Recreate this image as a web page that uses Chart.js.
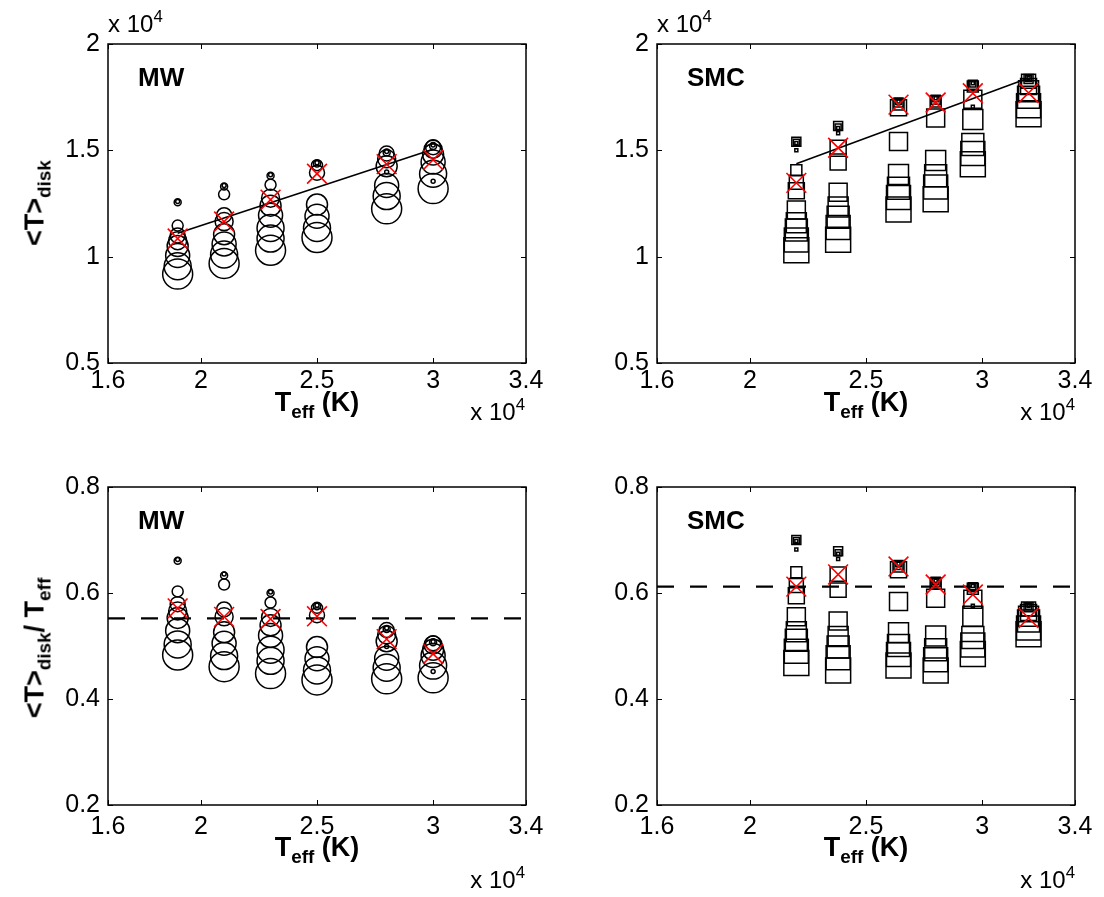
<!DOCTYPE html>
<html>
<head>
<meta charset="utf-8">
<script src="https://cdn.jsdelivr.net/npm/chart.js@4.4.1/dist/chart.umd.min.js"></script>
<style>
  body { margin: 0; background: #fff; }
  #fig { position: relative; width: 1104px; height: 897px; overflow: hidden;
         font-family: "Liberation Sans", Arial, Helvetica, sans-serif; color: #000; }
  #fig canvas { position: absolute; }
  .lbl { position: absolute; white-space: nowrap; line-height: 1; }
  .b { font-weight: bold; }
  .lbl sub { font-size: 70%; vertical-align: -0.35em; line-height: 0; }
  .lbl sup { font-size: 70%; vertical-align: 0.6em; line-height: 0; }
</style>
</head>
<body>
<div id="fig">
  <canvas id="mwDiskChart" width="552" height="448" style="left:0;top:0"></canvas>
  <canvas id="smcDiskChart" width="552" height="448" style="left:552px;top:0"></canvas>
  <canvas id="mwRatioChart" width="552" height="449" style="left:0;top:448px"></canvas>
  <canvas id="smcRatioChart" width="552" height="449" style="left:552px;top:448px"></canvas>

  <div class="lbl" style="left:108px;top:12px;font-size:24px">x 10<sup>4</sup></div>
  <div class="lbl" style="left:657px;top:12px;font-size:24px">x 10<sup>4</sup></div>

  <div class="lbl b" style="left:138px;top:64px;font-size:26px">MW</div>
  <div class="lbl b" style="left:687px;top:64px;font-size:26px">SMC</div>
  <div class="lbl b" style="left:138px;top:507px;font-size:26px">MW</div>
  <div class="lbl b" style="left:687px;top:507px;font-size:26px">SMC</div>

  <div class="lbl b" style="left:317px;top:389px;font-size:27px;transform:translateX(-50%)">T<sub>eff</sub> (K)</div>
  <div class="lbl b" style="left:866px;top:389px;font-size:27px;transform:translateX(-50%)">T<sub>eff</sub> (K)</div>
  <div class="lbl b" style="left:317px;top:834px;font-size:27px;transform:translateX(-50%)">T<sub>eff</sub> (K)</div>
  <div class="lbl b" style="left:866px;top:834px;font-size:27px;transform:translateX(-50%)">T<sub>eff</sub> (K)</div>

  <div class="lbl" style="left:525px;top:400px;font-size:24px;transform:translateX(-100%)">x 10<sup>4</sup></div>
  <div class="lbl" style="left:1075px;top:400px;font-size:24px;transform:translateX(-100%)">x 10<sup>4</sup></div>
  <div class="lbl" style="left:525px;top:868px;font-size:24px;transform:translateX(-100%)">x 10<sup>4</sup></div>
  <div class="lbl" style="left:1075px;top:868px;font-size:24px;transform:translateX(-100%)">x 10<sup>4</sup></div>

  <div class="lbl b" style="left:35px;top:203px;font-size:27px;transform:translate(-50%,-50%) rotate(-90deg)">&lt;T&gt;<sub>disk</sub></div>
  <div class="lbl b" style="left:35px;top:648px;font-size:27px;transform:translate(-50%,-50%) rotate(-90deg)">&lt;T&gt;<sub>disk</sub>/ T<sub>eff</sub></div>
</div>
<script>
// ---- data (temperatures in K) ----
const mwTeff = [19000, 21000, 23000, 25000, 28000, 30000];
const mwDisk = [
  [12590, 12560, 11460, 11000, 10750, 10500, 10050, 9550, 9180],
  [13350, 13300, 12930, 11950, 11650, 11050, 10600, 10100, 9680],
  [13850, 13800, 13380, 12750, 12400, 11950, 11350, 10850, 10300],
  [14420, 14380, 14300, 13950, 12450, 11900, 11350, 10900],
  [14950, 14900, 14850, 14600, 14250, 13980, 13350, 12850, 12250],
  [15250, 15200, 15150, 15050, 14800, 14450, 13900, 13550, 13200]
];
const mwModel = [
  [0, 1, 2, 3, 4, 5, 6, 7, 8],
  [0, 1, 2, 3, 4, 5, 6, 7, 8],
  [0, 1, 2, 4, 5, 6, 7, 7, 8],
  [0, 1, 2, 3, 5, 6, 7, 8],
  [0, 1, 3, 4, 5, 0, 6, 7, 8],
  [0, 1, 3, 4, 5, 6, 7, 0, 8]
];
const mwDiskMean = [10850, 11650, 12680, 13900, 14350, 14550];
const mwFitTeff = [19000, 30000];
const mwFitDisk = [11100, 15050];
const mwRatio = [
  [0.663, 0.661, 0.603, 0.579, 0.566, 0.553, 0.529, 0.503, 0.483],
  [0.636, 0.633, 0.616, 0.569, 0.555, 0.526, 0.505, 0.481, 0.461],
  [0.602, 0.600, 0.582, 0.554, 0.539, 0.520, 0.493, 0.472, 0.448],
  [0.577, 0.575, 0.572, 0.558, 0.498, 0.476, 0.454, 0.436],
  [0.534, 0.532, 0.530, 0.521, 0.509, 0.499, 0.477, 0.459, 0.438],
  [0.508, 0.507, 0.505, 0.502, 0.493, 0.482, 0.463, 0.452, 0.440]
];
const mwRatioMean = [0.571, 0.555, 0.551, 0.556, 0.513, 0.485];
const mwRatioAvg = 0.552;

const smcTeff = [22000, 23800, 26400, 28000, 29600, 32000];
const smcDisk = [
  [15400, 15380, 15350, 15000, 14060, 13500, 13100, 12200, 11600, 11250, 10780, 10300],
  [16150, 16100, 16050, 15800, 15100, 14450, 13030, 12330, 11850, 11370, 10800],
  [17300, 17300, 17250, 17150, 17000, 15420, 13860, 13220, 12780, 12220],
  [17450, 17420, 17380, 17300, 16520, 14520, 13810, 13270, 12700],
  [18150, 18120, 18080, 18000, 17400, 17050, 16450, 15280, 14850, 14350],
  [18400, 18380, 18350, 18250, 18000, 17800, 17500, 17100, 16700]
];
const smcModel = [
  [2, 1, 0, 0, 3, 4, 5, 6, 7, 8, 9, 10],
  [2, 1, 0, 0, 5, 5, 6, 7, 8, 9, 10],
  [0, 1, 2, 3, 5, 6, 7, 8, 9, 10],
  [0, 1, 2, 3, 6, 7, 8, 9, 10],
  [0, 1, 2, 3, 6, 0, 7, 8, 9, 10],
  [0, 1, 2, 4, 5, 7, 8, 9, 10]
];
const smcDiskMean = [13470, 15120, 17150, 17250, 17680, 17700];
const smcFitTeff = [22000, 32000];
const smcFitDisk = [14370, 18400];
const smcRatio = [
  [0.700, 0.699, 0.698, 0.682, 0.639, 0.614, 0.595, 0.555, 0.527, 0.511, 0.490, 0.468],
  [0.679, 0.676, 0.674, 0.664, 0.634, 0.607, 0.547, 0.518, 0.498, 0.478, 0.454],
  [0.655, 0.655, 0.653, 0.650, 0.644, 0.584, 0.525, 0.501, 0.484, 0.463],
  [0.623, 0.622, 0.621, 0.618, 0.590, 0.519, 0.493, 0.474, 0.454],
  [0.613, 0.612, 0.611, 0.608, 0.588, 0.576, 0.556, 0.516, 0.502, 0.485],
  [0.575, 0.574, 0.573, 0.570, 0.563, 0.556, 0.547, 0.534, 0.522]
];
const smcRatioMean = [0.612, 0.635, 0.650, 0.616, 0.597, 0.553];
const smcRatioAvg = 0.612;

const teffTicks = [16000, 20000, 25000, 30000, 34000];
const diskTicks = [5000, 10000, 15000, 20000];
const ratioTicks = [0.2, 0.4, 0.6, 0.8];

// ---- styles ----
const FONT = "'Liberation Sans', Arial, Helvetica, sans-serif";
const CIRCLE_RADIUS = [2, 3.5, 5.5, 7.5, 9, 10.5, 12, 13.5, 15];
const SQUARE_HALF = [1.5, 3, 4.5, 5.5, 7, 8, 9, 10, 11, 12, 12.5];

const boxPlugin = {
  id: "boxPlugin",
  afterDraw(chart) {
    const { ctx, chartArea: a, scales } = chart;
    ctx.save();
    ctx.strokeStyle = "#000";
    ctx.lineWidth = 1.5;
    ctx.strokeRect(a.left, a.top, a.width, a.height);
    ctx.lineWidth = 1;
    ctx.beginPath();
    scales.x.ticks.forEach((t) => {
      const x = Math.round(scales.x.getPixelForValue(t.value)) + 0.5;
      ctx.moveTo(x, a.bottom); ctx.lineTo(x, a.bottom - 5);
      ctx.moveTo(x, a.top); ctx.lineTo(x, a.top + 5);
    });
    scales.y.ticks.forEach((t) => {
      const y = Math.round(scales.y.getPixelForValue(t.value)) + 0.5;
      ctx.moveTo(a.left, y); ctx.lineTo(a.left + 5, y);
      ctx.moveTo(a.right, y); ctx.lineTo(a.right - 5, y);
    });
    ctx.stroke();
    ctx.restore();
  }
};

function stackPoints(teff, values, models) {
  const pts = [];
  teff.forEach((t, i) => {
    values[i].forEach((v, j) => pts.push({ x: t, y: v, model: models[i][j] }));
  });
  return pts;
}

function pairs(xs, ys) {
  return xs.map((x, i) => ({ x, y: ys[i] }));
}

function createPanel(id, p) {
  const markerRadius = p.square
    ? (c) => (c.raw ? SQUARE_HALF[c.raw.model] / Math.SQRT1_2 : 0)
    : (c) => (c.raw ? CIRCLE_RADIUS[c.raw.model] : 0);

  return new Chart(document.getElementById(id), {
    type: "scatter",
    data: {
      datasets: [
        {
          data: pairs(p.teff, p.mean),
          pointStyle: "crossRot",
          pointRadius: 14,
          pointBorderColor: "#ff0000",
          pointBorderWidth: 1.6
        },
        {
          data: pairs(p.lineX, p.lineY),
          showLine: true,
          borderColor: "#000",
          borderWidth: p.dashed ? 2.2 : 1.6,
          borderDash: p.dashed ? [17, 16] : [],
          pointRadius: 0
        },
        {
          data: stackPoints(p.teff, p.values, p.models),
          pointStyle: p.square ? "rect" : "circle",
          pointRadius: markerRadius,
          pointBorderColor: "#000",
          pointBackgroundColor: "rgba(0,0,0,0)",
          pointBorderWidth: 1.5
        }
      ]
    },
    options: {
      responsive: false,
      animation: false,
      events: [],
      layout: { padding: { left: 0, top: p.padTop, right: p.padRight, bottom: 0 } },
      plugins: { legend: { display: false }, tooltip: { enabled: false } },
      scales: {
        x: {
          type: "linear",
          min: 16000,
          max: 34000,
          afterBuildTicks(scale) { scale.ticks = teffTicks.map((value) => ({ value })); },
          afterFit(scale) { scale.height = p.xHeight; },
          ticks: {
            autoSkip: false,
            maxRotation: 0,
            padding: p.xPad,
            color: "#000",
            font: { family: FONT, size: 25 },
            callback: (v) => String(v / 10000)
          },
          grid: { display: false, drawTicks: false },
          border: { display: false }
        },
        y: {
          type: "linear",
          min: p.yTicks[0],
          max: p.yTicks[p.yTicks.length - 1],
          afterBuildTicks(scale) { scale.ticks = p.yTicks.map((value) => ({ value })); },
          afterFit(scale) { scale.width = p.yWidth; },
          ticks: {
            autoSkip: false,
            padding: 8,
            color: "#000",
            font: { family: FONT, size: 25 },
            callback: p.yFormat
          },
          grid: { display: false, drawTicks: false },
          border: { display: false }
        }
      }
    },
    plugins: [boxPlugin]
  });
}

const diskFormat = (v) => String(v / 10000);
const ratioFormat = (v) => v.toFixed(1);
const fullRange = [16000, 34000];

createPanel("mwDiskChart", {
  teff: mwTeff, values: mwDisk, models: mwModel, mean: mwDiskMean,
  lineX: mwFitTeff, lineY: mwFitDisk, dashed: false, square: false,
  yTicks: diskTicks, yFormat: diskFormat,
  yWidth: 108, padTop: 44, padRight: 26, xHeight: 85, xPad: 3
});
createPanel("smcDiskChart", {
  teff: smcTeff, values: smcDisk, models: smcModel, mean: smcDiskMean,
  lineX: smcFitTeff, lineY: smcFitDisk, dashed: false, square: true,
  yTicks: diskTicks, yFormat: diskFormat,
  yWidth: 105, padTop: 44, padRight: 29, xHeight: 85, xPad: 3
});
createPanel("mwRatioChart", {
  teff: mwTeff, values: mwRatio, models: mwModel, mean: mwRatioMean,
  lineX: fullRange, lineY: [mwRatioAvg, mwRatioAvg], dashed: true, square: false,
  yTicks: ratioTicks, yFormat: ratioFormat,
  yWidth: 108, padTop: 39, padRight: 26, xHeight: 92, xPad: 7
});
createPanel("smcRatioChart", {
  teff: smcTeff, values: smcRatio, models: smcModel, mean: smcRatioMean,
  lineX: fullRange, lineY: [smcRatioAvg, smcRatioAvg], dashed: true, square: true,
  yTicks: ratioTicks, yFormat: ratioFormat,
  yWidth: 105, padTop: 39, padRight: 29, xHeight: 92, xPad: 7
});
</script>
</body>
</html>
